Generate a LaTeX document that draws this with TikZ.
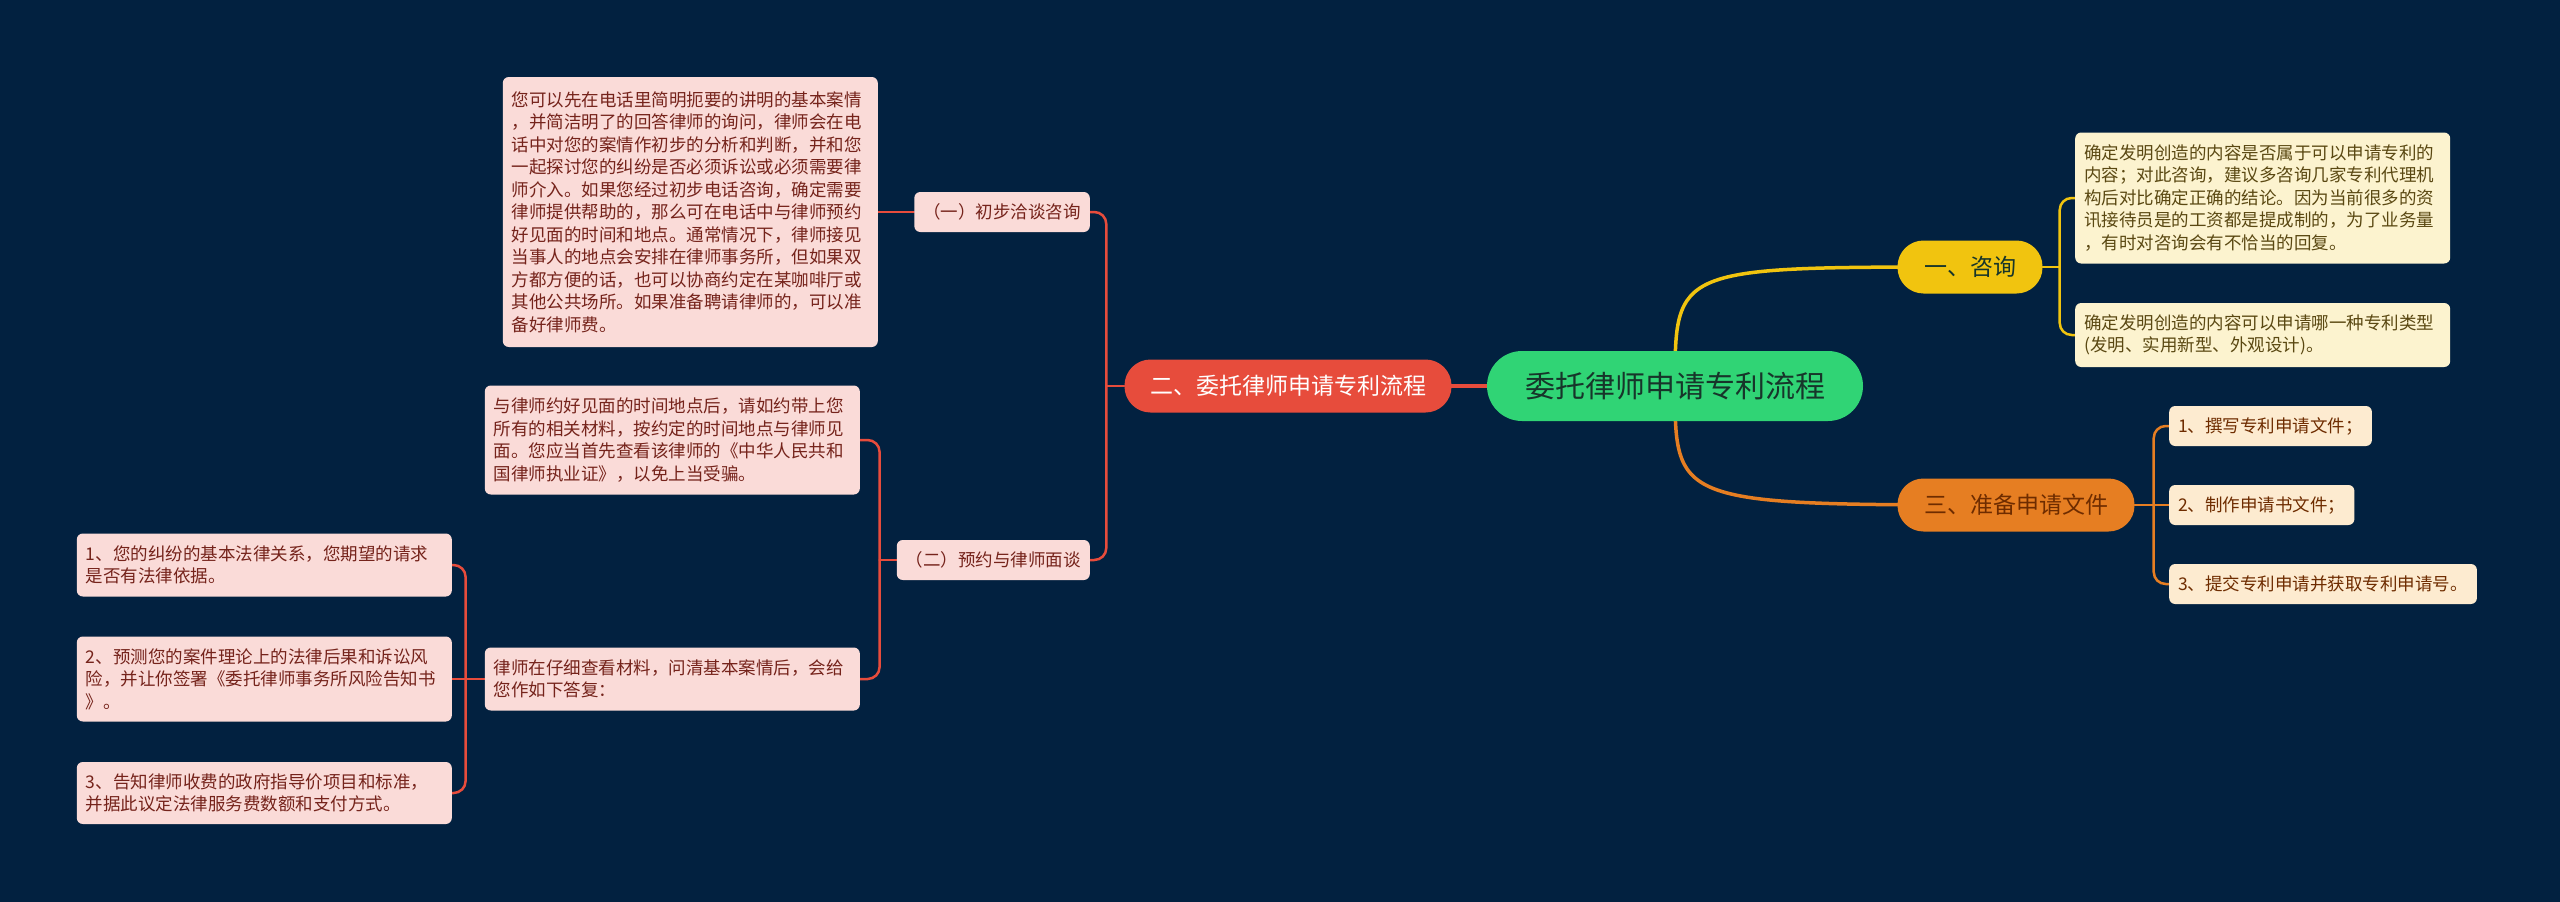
\documentclass[tikz,border=0pt]{standalone}
\usepackage{fontspec}
\setmainfont{Noto Sans CJK SC}
\usepackage{tikz}
\usetikzlibrary{calc}
\usetikzlibrary{backgrounds}
\definecolor{bgnavy}{HTML}{022140}
\definecolor{rootgreen}{HTML}{30D475}
\definecolor{roottext}{HTML}{17352A}
\definecolor{redtopic}{HTML}{E74C3C}
\definecolor{yeltopic}{HTML}{F1C40F}
\definecolor{orgtopic}{HTML}{E67E22}
\definecolor{pinkfill}{HTML}{FADBD8}
\definecolor{pinktext}{HTML}{75231B}
\definecolor{creamfill}{HTML}{FCF3CF}
\definecolor{creamtext}{HTML}{5A4812}
\definecolor{peachfill}{HTML}{FDEBD0}
\definecolor{peachtext}{HTML}{6E2C00}
\tikzstyle{every node}=[font=\fontsize{17.5}{22.5}\selectfont]
\tikzstyle{rootnode}=[fill=rootgreen,text=roottext,rounded corners=35pt,minimum width=376pt,minimum height=70pt,font=\fontsize{30}{36}\selectfont]
\tikzstyle{topicnode}=[rounded corners=26pt,minimum height=53pt,inner xsep=0pt,font=\fontsize{23}{28}\selectfont]
\tikzstyle{leafnode}=[rounded corners=6pt,inner xsep=9pt,inner ysep=8pt,align=left]
\tikzstyle{pinkleaf}=[leafnode,fill=pinkfill,text=pinktext]
\tikzstyle{yelleaf}=[leafnode,fill=creamfill,text=creamtext]
\tikzstyle{orgleaf}=[leafnode,fill=peachfill,text=peachtext,minimum height=40pt]
\tikzstyle{textbox}=[text width=357pt]
\tikzstyle{rootline}=[line width=3.5pt,line cap=round]
\tikzstyle{branchline}=[line width=2.5pt,line cap=round,rounded corners=12pt]

\begin{document}
\begin{tikzpicture}[x=1pt,y=-1pt]
        \useasboundingbox (0,0) rectangle (2560,902);

        % centre and main topics
        \node [rootnode] (root) at (1675,386) {委托律师申请专利流程};
        \node [topicnode,fill=redtopic,text=white,minimum width=327pt] (entrust) at (1288,386) {二、委托律师申请专利流程};
        \node [topicnode,fill=yeltopic,text=roottext,minimum width=145pt] (consult) at (1970,267) {一、咨询};
        \node [topicnode,fill=orgtopic,text=peachtext,minimum width=237pt] (prepare) at (2016,505) {三、准备申请文件};

        % 一、咨询
        \node [yelleaf,textbox,minimum height=131pt,anchor=west] (consulta) at (2075,198) {确定发明创造的内容是否属于可以申请专利的\\内容；对此咨询，建议多咨询几家专利代理机\\构后对比确定正确的结论。因为当前很多的资\\讯接待员是的工资都是提成制的，为了业务量\\，有时对咨询会有不恰当的回复。};
        \node [yelleaf,textbox,minimum height=64pt,anchor=west] (consultb) at (2075,335) {确定发明创造的内容可以申请哪一种专利类型\\(发明、实用新型、外观设计)。};

        % 三、准备申请文件
        \node [orgleaf,anchor=west] (filea) at (2169,426) {1、撰写专利申请文件；};
        \node [orgleaf,anchor=west] (fileb) at (2169,505) {2、制作申请书文件；};
        \node [orgleaf,anchor=west] (filec) at (2169,584) {3、提交专利申请并获取专利申请号。};

        % 二、委托律师申请专利流程
        \node [pinkleaf,minimum height=40pt,anchor=east] (talka) at (1090,212) {（一）初步洽谈咨询};
        \node [pinkleaf,minimum height=40pt,anchor=east] (talkb) at (1090,560) {（二）预约与律师面谈};
        \node [pinkleaf,textbox,minimum height=270pt,anchor=east] (phone) at (878,212) {您可以先在电话里简明扼要的讲明的基本案情\\，并简洁明了的回答律师的询问，律师会在电\\话中对您的案情作初步的分析和判断，并和您\\一起探讨您的纠纷是否必须诉讼或必须需要律\\师介入。如果您经过初步电话咨询，确定需要\\律师提供帮助的，那么可在电话中与律师预约\\好见面的时间和地点。通常情况下，律师接见\\当事人的地点会安排在律师事务所，但如果双\\方都方便的话，也可以协商约定在某咖啡厅或\\其他公共场所。如果准备聘请律师的，可以准\\备好律师费。};
        \node [pinkleaf,textbox,minimum height=109pt,anchor=east] (meet) at (860,440) {与律师约好见面的时间地点后，请如约带上您\\所有的相关材料，按约定的时间地点与律师见\\面。您应当首先查看该律师的《中华人民共和\\国律师执业证》，以免上当受骗。};
        \node [pinkleaf,textbox,minimum height=63pt,anchor=east] (answer) at (860,679) {律师在仔细查看材料，问清基本案情后，会给\\您作如下答复：};
        \node [pinkleaf,textbox,minimum height=63pt,anchor=east] (replya) at (452,565) {1、您的纠纷的基本法律关系，您期望的请求\\是否有法律依据。};
        \node [pinkleaf,textbox,minimum height=85pt,anchor=east] (replyb) at (452,679) {2、预测您的案件理论上的法律后果和诉讼风\\险，并让你签署《委托律师事务所风险告知书\\》。};
        \node [pinkleaf,textbox,minimum height=62pt,anchor=east] (replyc) at (452,793) {3、告知律师收费的政府指导价项目和标准，\\并据此议定法律服务费数额和支付方式。};

        \begin{scope}[on background layer]
            \fill [bgnavy] (0,0) rectangle (2560,902);

            % links from the centre
            \draw [rootline,draw=redtopic] (root.center) -- (entrust.center);
            \draw [rootline,draw=yeltopic] (root.center) .. controls (root.center |- consult.west) .. (consult.center);
            \draw [rootline,draw=orgtopic] (root.center) .. controls (root.center |- prepare.west) .. (prepare.center);

            % brackets
            \draw [branchline,draw=yeltopic] (consult.east) -- ++(17,0) coordinate (consultfork);
            \draw [branchline,draw=yeltopic] (consulta.west) -| (consultfork) |- (consultb.west);

            \draw [branchline,draw=orgtopic] (prepare.east) -- (fileb.west);
            \path (prepare.east) -- ++(19,0) coordinate (preparefork);
            \draw [branchline,draw=orgtopic] (filea.west) -| (preparefork) |- (filec.west);

            \draw [branchline,draw=redtopic] (entrust.west) -- ++(-18,0) coordinate (entrustfork);
            \draw [branchline,draw=redtopic] (talka.east) -| (entrustfork) |- (talkb.east);
            \draw [branchline,draw=redtopic] (talka.west) -- (phone.east);

            \draw [branchline,draw=redtopic] (talkb.west) -- ++(-17,0) coordinate (talkfork);
            \draw [branchline,draw=redtopic] (meet.east) -| (talkfork) |- (answer.east);

            \draw [branchline,draw=redtopic] (answer.west) -- (replyb.east);
            \path (answer.west) -- ++(-19,0) coordinate (answerfork);
            \draw [branchline,draw=redtopic] (replya.east) -| (answerfork) |- (replyc.east);
        \end{scope}
    \end{tikzpicture}
\end{document}
